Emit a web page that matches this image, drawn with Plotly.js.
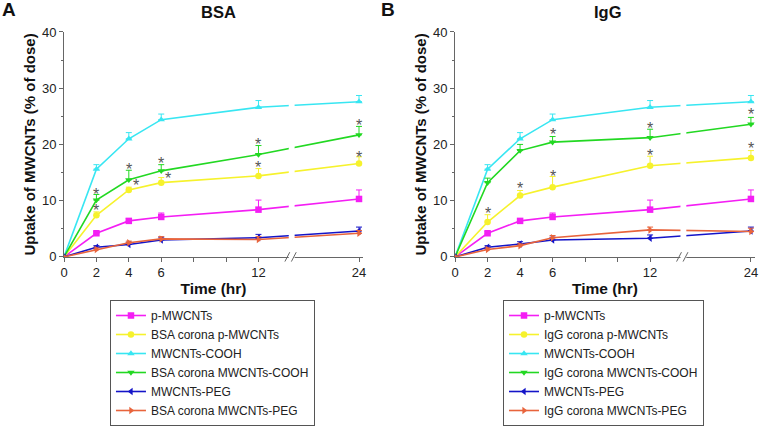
<!DOCTYPE html>
<html>
<head>
<meta charset="utf-8">
<script src="https://cdn.plot.ly/plotly-3.0.1.min.js"></script>
<style>
	html, body { margin: 0; padding: 0; background: #fff; }
	#chart { width: 761px; height: 426px; }
</style>
</head>
<body>
<div id="chart"></div>
<script>
(function(){

	'use strict';

	// sampling times (hr)
	const hours = [0, 2, 4, 6, 12, 24];
	const tickHours = [0, 2, 4, 6, 12, 24];
	const minorHours = [8, 10];

	// series names
	const namesA = ['p-MWCNTs', 'BSA corona p-MWCNTs', 'MWCNTs-COOH', 'BSA corona MWCNTs-COOH', 'MWCNTs-PEG', 'BSA corona MWCNTs-PEG'];
	const namesB = ['p-MWCNTs', 'IgG corona p-MWCNTs', 'MWCNTs-COOH', 'IgG corona MWCNTs-COOH', 'MWCNTs-PEG', 'IgG corona MWCNTs-PEG'];

	// Panel A - BSA (uptake % of dose, + upper error)
	const pMwcnt = [0, 4.2, 6.4, 7.1, 8.4, 10.3];
	const pMwcntErr = [0, 0.3, 0.4, 0.7, 1.7, 1.6];
	const bsaP = [0, 7.4, 11.9, 13.2, 14.4, 16.6];
	const bsaPErr = [0, 0.6, 0.5, 0.9, 1.3, 1.2];
	const cooh = [0, 15.6, 21.0, 24.4, 26.6, 27.6];
	const coohErr = [0, 0.8, 1.1, 1.0, 1.2, 1.1];
	const bsaCooh = [0, 10.1, 13.7, 15.3, 18.2, 21.7];
	const bsaCoohErr = [0, 1.0, 1.7, 1.1, 1.6, 1.5];
	const pegA = [0, 1.7, 2.2, 3.0, 3.4, 4.6];
	const pegAErr = [0, 0.3, 0.4, 0.5, 0.6, 0.7];
	const bsaPeg = [0, 1.3, 2.5, 3.2, 3.1, 4.2];
	const bsaPegErr = [0, 0.3, 0.3, 0.4, 0.5, 0.5];

	// Panel B - IgG
	const igP = [0, 6.2, 10.9, 12.4, 16.2, 17.6];
	const igPErr = [0, 1.3, 0.9, 1.9, 1.7, 1.3];
	const igCooh = [0, 13.2, 18.9, 20.4, 21.2, 23.6];
	const igCoohErr = [0, 0.8, 1.1, 1.0, 1.5, 1.2];
	const pegB = [0, 1.7, 2.3, 3.0, 3.3, 4.6];
	const pegBErr = [0, 0.3, 0.4, 0.5, 0.6, 0.7];
	const igPeg = [0, 1.3, 2.0, 3.4, 4.8, 4.5];
	const igPegErr = [0, 0.3, 0.3, 0.4, 0.5, 0.6];

	// significance stars (*): hour, level, nudge right?
	const starHoursA = [2, 2, 4, 4, 6, 6, 12, 12, 24, 24];
	const starValsA = [11.8, 8.9, 16.2, 13.4, 17.3, 14.6, 20.7, 16.6, 24.1, 18.4];
	const starSideA = [0, 0, 0, 1, 0, 1, 0, 0, 0, 0];
	const starHoursB = [2, 4, 6, 6, 12, 12, 24, 24];
	const starValsB = [8.4, 12.9, 22.4, 15.0, 23.6, 18.7, 26.1, 19.9];
	const starSideB = [0, 0, 0, 0, 0, 0, 0, 0];

	const colors = ['#f41ef4', '#f6f22c', '#38e6f2', '#22d822', '#1414c8', '#e8643c'];
	const symbols = ['square', 'circle', 'triangle-up', 'triangle-down', 'triangle-left', 'triangle-right'];

	const FONT = 'Arial, "Liberation Sans", sans-serif';
	const AXIS_COLOR = '#666';

	/**
	* broken time axis: 12 -> 24 hr is squeezed
	*/
	const breakAt = 14.05;
	const toAxis = ( h ) => h <= 12 ? h : 12 + ( h - 12 ) * 0.517;

	/**
	* build the 6 traces for one panel
	*/
	const buildTraces = ( names, ys, errs, axisSuffix, legendId ) => {
		return ys.map(( y, i ) => ({
			x: hours.map( toAxis ),
			y: y,
			name: names[i],
			xaxis: 'x' + axisSuffix,
			yaxis: 'y' + axisSuffix,
			legend: legendId,
			type: 'scatter',
			mode: 'lines+markers',
			line: { color: colors[i], width: 1.6 },
			marker: { color: colors[i], symbol: symbols[i], size: 6.5 },
			error_y: {
				type: 'data',
				symmetric: false,
				array: errs[i],
				arrayminus: errs[i].map(() => 0 ),
				color: colors[i],
				thickness: 1,
				width: 3,
			},
			hovertemplate: '%{y}<extra></extra>',
		}));
	};

	const data = [].concat(
		buildTraces( namesA,
			[ pMwcnt, bsaP, cooh, bsaCooh, pegA, bsaPeg ],
			[ pMwcntErr, bsaPErr, coohErr, bsaCoohErr, pegAErr, bsaPegErr ], '', 'legend'),
		buildTraces( namesB,
			[ pMwcnt, igP, cooh, igCooh, pegB, igPeg ],
			[ pMwcntErr, igPErr, coohErr, igCoohErr, pegBErr, igPegErr ], '2', 'legend2')
	);

	/**
	* axes
	*/
	const xAxis = ( domain, anchor ) => ({
		domain, anchor,
		range: [0, 18.45],
		showline: true, linecolor: AXIS_COLOR, linewidth: 1,
		showgrid: false, zeroline: false,
		ticks: 'outside', ticklen: 4, tickcolor: AXIS_COLOR,
		tickmode: 'array',
		tickvals: tickHours.map( toAxis ),
		ticktext: tickHours.map( String ),
		minor: { tickvals: minorHours.map( toAxis ), ticks: 'outside', ticklen: 4, tickcolor: AXIS_COLOR },
		tickfont: { family: FONT, size: 13, color: '#222' },
		title: { text: 'Time (hr)', font: { family: FONT, size: 15.5, color: '#111', weight: 'bold' }, standoff: 3 },
	});

	const yAxis = ( domain, anchor ) => ({
		domain, anchor,
		range: [0, 40],
		dtick: 10,
		showline: true, linecolor: AXIS_COLOR, linewidth: 1,
		showgrid: false, zeroline: false,
		ticks: 'outside', ticklen: 4, tickcolor: AXIS_COLOR,
		minor: { dtick: 5, ticks: 'outside', ticklen: 2, tickcolor: AXIS_COLOR },
		tickfont: { family: FONT, size: 13, color: '#222' },
		title: { text: 'Uptake of MWCNTs (% of dose)', font: { family: FONT, size: 15, color: '#111', weight: 'bold' }, standoff: 2 },
	});

	const yDomain = [0.397, 0.925];

	/**
	* axis break: white gap + two slashes
	*/
	const breakShapes = ( xref ) => {
		const y0 = yDomain[0];
		const dy = 0.011;
		return [
			{ type: 'rect', xref, yref: 'paper', x0: breakAt - 0.18, x1: breakAt + 0.18, y0: y0 - 0.006, y1: yDomain[1],
				fillcolor: '#fff', line: { width: 0 }, layer: 'above' },
			{ type: 'line', xref, yref: 'paper', x0: breakAt - 0.42, x1: breakAt - 0.12, y0: y0 - dy, y1: y0 + dy,
				line: { color: AXIS_COLOR, width: 1 }, layer: 'above' },
			{ type: 'line', xref, yref: 'paper', x0: breakAt - 0.02, x1: breakAt + 0.28, y0: y0 - dy, y1: y0 + dy,
				line: { color: AXIS_COLOR, width: 1 }, layer: 'above' },
		];
	};

	/**
	* stars
	*/
	const stars = ( hrs, vals, side, xref, yref ) => hrs.map(( h, i ) => ({
		x: toAxis( h ), y: vals[i], xref, yref,
		text: '*', showarrow: false,
		xshift: side[i] ? 7 : 0, yshift: -4,
		font: { family: FONT, size: 16, color: '#555' },
	}));

	const label = ( text, x, y, size ) => ({
		text, x, y, xref: 'paper', yref: 'paper', showarrow: false,
		xanchor: 'center', yanchor: 'middle',
		font: { family: FONT, size, color: '#111', weight: 'bold' },
	});

	// legends sit at the bottom of the paper (kept inside so no margin push)
	const legend = ( x ) => ({
		x, y: 0, xanchor: 'left', yanchor: 'bottom',
		bordercolor: '#555', borderwidth: 1, bgcolor: '#fff',
		font: { family: FONT, size: 12, color: '#222' },
		traceorder: 'normal',
		tracegroupgap: 0,
		entrywidth: 172,
		entrywidthmode: 'pixels',
	});

	const layout = {
		width: 761, height: 426,
		margin: { l: 0, r: 0, t: 0, b: 0 },
		paper_bgcolor: '#fff', plot_bgcolor: '#fff',
		showlegend: true,
		xaxis: xAxis([0.0841, 0.477], 'y'),
		yaxis: yAxis( yDomain, 'x'),
		xaxis2: xAxis([0.598, 0.992], 'y2'),
		yaxis2: yAxis( yDomain, 'x2'),
		legend: legend( 0.1445 ),
		legend2: legend( 0.661 ),
		shapes: breakShapes('x').concat( breakShapes('x2')),
		annotations: [
			label('A', 0.012, 0.977, 19),
			label('BSA', 0.287, 0.973, 16.5),
			label('B', 0.51, 0.977, 19),
			label('IgG', 0.799, 0.973, 16.5),
		].concat(
			stars( starHoursA, starValsA, starSideA, 'x', 'y'),
			stars( starHoursB, starValsB, starSideB, 'x2', 'y2')
		),
	};

	Plotly.newPlot('chart', data, layout, { displayModeBar: false, staticPlot: true });

})();
</script>
</body>
</html>
